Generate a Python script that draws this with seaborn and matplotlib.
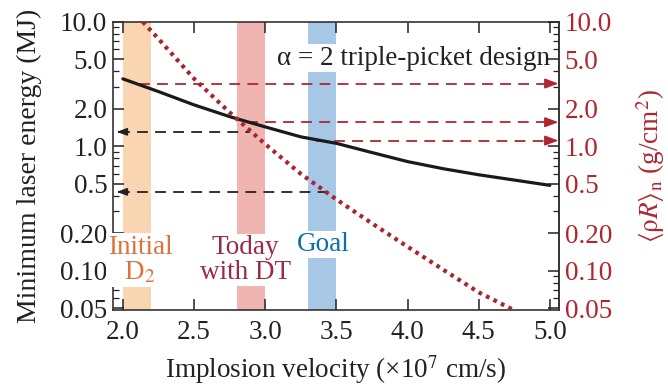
import matplotlib
matplotlib.use("Agg")
import matplotlib.pyplot as plt
import matplotlib.ticker as mticker
import seaborn as sns

# black solid curve: minimum laser energy (MJ) vs implosion velocity
velocity = [2.0, 2.25, 2.5, 2.75, 3.0, 3.25, 3.5, 3.75, 4.0, 4.25, 4.5, 4.75, 5.0]
laser_energy = [3.48, 2.75, 2.15, 1.73, 1.43, 1.19, 1.055, 0.89, 0.753, 0.66, 0.59, 0.535, 0.485]

# red dotted curve: areal density <rhoR>_n (g/cm^2)
rho_velocity = [2.14, 2.25, 2.5, 2.75, 3.0, 3.25, 3.5, 3.75, 4.0, 4.25, 4.5, 4.75]
rho_r = [10.0, 7.3, 3.49, 1.87, 1.04, 0.60, 0.374, 0.24, 0.156, 0.102, 0.067, 0.048]

# shaded velocity bands
band_lo = [2.0, 2.8, 3.3]
band_hi = [2.2, 3.0, 3.5]
band_colors = ["#FAD5B2", "#F0B5B0", "#A7C7E7"]
band_labels = ["Initial\nD$_2$", "Today\nwith DT", "Goal"]
label_colors = ["#DD733A", "#9A2B44", "#0B6FA8"]
label_x = [2.12, 2.86, 3.41]
label_y = [0.122, 0.122, 0.162]

# dashed arrows: black -> left axis, red -> right axis
black_arrow_start = [2.89, 3.43]
black_arrow_y = [1.305, 0.43]
black_arrow_tip = 1.956
red_arrow_start = [2.11, 2.87, 3.36]
red_arrow_y = [3.19, 1.56, 1.11]
red_arrow_tip = 5.06

yticks = [0.05, 0.1, 0.2, 0.5, 1.0, 2.0, 5.0, 10.0]
ytick_labels = ["0.05", "0.10", "0.20", "0.5", "1.0", "2.0", "5.0", "10.0"]

RED = "#B0262F"
DOT_RED = "#A8272F"

sns.set_theme(style="ticks")
plt.rcParams["font.family"] = "serif"
plt.rcParams["font.serif"] = ["Liberation Serif", "DejaVu Serif"]
plt.rcParams["mathtext.fontset"] = "stix"
FS = 19.5

fig = plt.figure(figsize=(6.68, 3.89), dpi=100)
ax = fig.add_axes([0.169, 0.203, 0.668, 0.741])

for lo, hi, c in zip(band_lo, band_hi, band_colors):
    ax.axvspan(lo, hi, color=c, lw=0, zorder=0)

for x, y, s, c in zip(label_x, label_y, band_labels, label_colors):
    ax.text(x, y, s, color=c, fontsize=FS, ha="center", va="center", linespacing=1.0,
            zorder=6, bbox=dict(facecolor="white", edgecolor="none", pad=1.0))

ax.text(5.0, 5.1, "α = 2 triple-picket design", fontsize=FS, ha="right", va="center",
        color="#222222", zorder=2, bbox=dict(facecolor="white", edgecolor="none", pad=1.0))

sns.lineplot(x=velocity, y=laser_energy, ax=ax, color="#1a1a1a", lw=2.3, zorder=5)
sns.lineplot(x=rho_velocity, y=rho_r, ax=ax, color=DOT_RED, lw=3.0,
             linestyle=(0, (0.9, 1.1)), zorder=5)

for xs, y in zip(black_arrow_start, black_arrow_y):
    ax.hlines(y, black_arrow_tip + 0.02, xs, colors="#222222", lw=1.3,
              linestyles=(0, (6, 4)), zorder=4)
    ax.annotate("", xy=(black_arrow_tip, y), xytext=(black_arrow_tip + 0.03, y),
                arrowprops=dict(arrowstyle="-|>,head_length=0.6,head_width=0.22",
                                color="#222222", lw=1.2, shrinkA=0, shrinkB=0,
                                mutation_scale=10), zorder=4)

for xs, y in zip(red_arrow_start, red_arrow_y):
    ax.hlines(y, xs, red_arrow_tip - 0.03, colors=RED, lw=1.3,
              linestyles=(0, (6, 4)), zorder=4)
    ax.annotate("", xy=(red_arrow_tip, y), xytext=(red_arrow_tip - 0.04, y),
                arrowprops=dict(arrowstyle="-|>,head_length=0.8,head_width=0.3",
                                color=RED, lw=1.2, shrinkA=0, shrinkB=0,
                                mutation_scale=10), zorder=4)

ax.set_yscale("log")
ax.set_xlim(1.93, 5.065)
ax.set_ylim(0.0483, 10.0)
ax.set_xticks([2.0, 2.5, 3.0, 3.5, 4.0, 4.5, 5.0])
ax.set_xticklabels(["2.0", "2.5", "3.0", "3.5", "4.0", "4.5", "5.0"])
ax.yaxis.set_major_locator(mticker.FixedLocator(yticks))
ax.yaxis.set_major_formatter(mticker.FixedFormatter(ytick_labels))
ax.yaxis.set_minor_locator(mticker.LogLocator(base=10, subs=range(2, 10)))
ax.yaxis.set_minor_formatter(mticker.NullFormatter())

ax.tick_params(axis="both", which="major", direction="in", length=8, width=1.1,
               labelsize=FS, colors="#222222", top=True, pad=4)
ax.tick_params(axis="x", which="major", pad=7)
ax.tick_params(axis="y", which="minor", direction="in", length=4, width=0.9,
               colors="#222222")
ax.set_xlabel("Implosion velocity (×10$^7$ cm/s)", fontsize=FS, color="#222222", labelpad=6)
ax.set_ylabel("Minimum laser energy (MJ)", fontsize=20, color="#222222", labelpad=13)
for sp in ax.spines.values():
    sp.set_color("#333333")
    sp.set_linewidth(1.2)
    sp.set_visible(True)

ax2 = ax.twinx()
ax2.set_yscale("log")
ax2.set_ylim(ax.get_ylim())
ax2.yaxis.set_major_locator(mticker.FixedLocator(yticks))
ax2.yaxis.set_major_formatter(mticker.FixedFormatter(ytick_labels))
ax2.yaxis.set_minor_locator(mticker.LogLocator(base=10, subs=range(2, 10)))
ax2.yaxis.set_minor_formatter(mticker.NullFormatter())
ax2.tick_params(axis="y", which="major", direction="in", length=8, width=1.1,
                labelsize=FS, color="#222222", labelcolor=RED, pad=4)
ax2.tick_params(axis="y", which="minor", direction="in", length=4, width=0.9, color="#222222")
ax2.set_ylabel(r"$\langle\mathrm{\rho}R\rangle_\mathrm{n}$ (g/cm$^2$)", fontsize=FS,
               color=RED, labelpad=16)
for name, sp in ax2.spines.items():
    sp.set_color("#333333")
    sp.set_linewidth(1.2)
    sp.set_visible(name == "right")

fig.savefig("out.png", dpi=100)
